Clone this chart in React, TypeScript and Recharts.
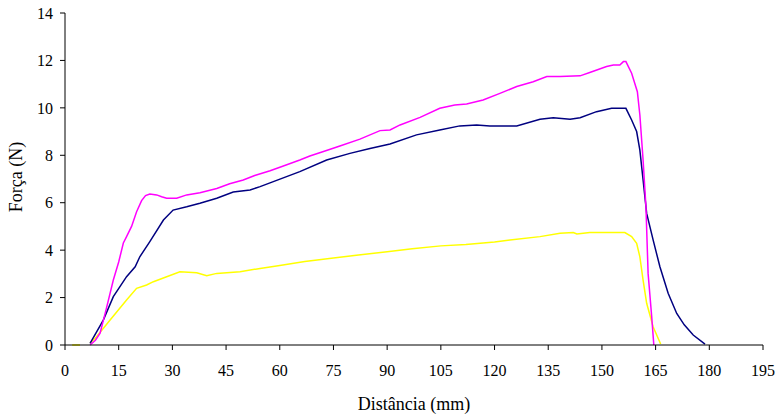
import { LineChart, Line, XAxis, YAxis } from 'recharts';

// Force (N) vs distance (mm), three test runs
const magenta = [
    { x: 7, y: 0 }, { x: 8.5, y: 0.2 }, { x: 9.8, y: 0.5 }, { x: 11.5, y: 1.5 }, { x: 13.5, y: 2.74 },
    { x: 15, y: 3.5 }, { x: 16.3, y: 4.3 }, { x: 17.2, y: 4.57 }, { x: 18.6, y: 5.0 }, { x: 20, y: 5.62 },
    { x: 21.4, y: 6.09 }, { x: 22.5, y: 6.3 }, { x: 23.7, y: 6.37 }, { x: 25.6, y: 6.33 }, { x: 27, y: 6.25 },
    { x: 28.4, y: 6.19 }, { x: 31.2, y: 6.19 }, { x: 34, y: 6.33 }, { x: 37.7, y: 6.42 }, { x: 42.4, y: 6.6 },
    { x: 46, y: 6.8 }, { x: 49.8, y: 6.96 }, { x: 53, y: 7.15 }, { x: 57.3, y: 7.35 }, { x: 61, y: 7.55 },
    { x: 65.6, y: 7.8 }, { x: 68.4, y: 7.97 }, { x: 72, y: 8.15 }, { x: 76.8, y: 8.39 }, { x: 82.4, y: 8.68 },
    { x: 88, y: 9.04 }, { x: 90.8, y: 9.07 }, { x: 93.6, y: 9.28 }, { x: 99.2, y: 9.6 }, { x: 104.7, y: 9.98 },
    { x: 108.9, y: 10.12 }, { x: 112.2, y: 10.16 }, { x: 116.8, y: 10.33 }, { x: 121.5, y: 10.61 },
    { x: 126.2, y: 10.9 }, { x: 130.8, y: 11.1 }, { x: 134.6, y: 11.32 }, { x: 138.3, y: 11.32 },
    { x: 143.9, y: 11.35 }, { x: 146.6, y: 11.49 }, { x: 151.3, y: 11.74 }, { x: 153.2, y: 11.81 },
    { x: 155, y: 11.81 }, { x: 156, y: 11.95 }, { x: 156.7, y: 11.95 }, { x: 158.3, y: 11.46 },
    { x: 159.9, y: 10.68 }, { x: 160.6, y: 9.7 }, { x: 161.5, y: 7.8 }, { x: 162.3, y: 5.83 },
    { x: 162.9, y: 3.02 }, { x: 163.9, y: 1.2 }, { x: 164.5, y: 0 },
];

const navy = [
    { x: 7, y: 0.07 }, { x: 10.7, y: 1.05 }, { x: 13.5, y: 2.04 }, { x: 17.2, y: 2.88 }, { x: 19.6, y: 3.3 },
    { x: 20.9, y: 3.72 }, { x: 23.7, y: 4.36 }, { x: 27.5, y: 5.27 }, { x: 30.2, y: 5.69 }, { x: 34, y: 5.83 },
    { x: 37.7, y: 5.98 }, { x: 42.4, y: 6.19 }, { x: 47, y: 6.45 }, { x: 51.7, y: 6.54 }, { x: 54.5, y: 6.68 },
    { x: 58.2, y: 6.89 }, { x: 65.6, y: 7.31 }, { x: 73.1, y: 7.8 }, { x: 79.6, y: 8.08 }, { x: 85.2, y: 8.29 },
    { x: 90.8, y: 8.48 }, { x: 98.2, y: 8.86 }, { x: 104.7, y: 9.07 }, { x: 110.3, y: 9.24 }, { x: 115, y: 9.28 },
    { x: 118.7, y: 9.24 }, { x: 126.2, y: 9.24 }, { x: 132.7, y: 9.52 }, { x: 136.4, y: 9.58 },
    { x: 141.1, y: 9.52 }, { x: 143.9, y: 9.58 }, { x: 148.5, y: 9.84 }, { x: 152.7, y: 9.98 },
    { x: 156.7, y: 9.98 }, { x: 158.3, y: 9.49 }, { x: 159.7, y: 9.0 }, { x: 160.6, y: 8.22 },
    { x: 161.5, y: 6.96 }, { x: 162.5, y: 5.55 }, { x: 164.3, y: 4.43 }, { x: 166.2, y: 3.3 },
    { x: 168.5, y: 2.18 }, { x: 170.9, y: 1.33 }, { x: 173, y: 0.85 }, { x: 175.5, y: 0.42 }, { x: 178.8, y: 0.04 },
];

const yellow = [
    { x: 2, y: 0 }, { x: 4.2, y: 0 }, { x: 5, y: null },
    { x: 7, y: 0.07 }, { x: 8.8, y: 0.35 }, { x: 12.6, y: 1.05 }, { x: 17.2, y: 1.9 }, { x: 20, y: 2.39 },
    { x: 22.8, y: 2.53 }, { x: 24.7, y: 2.67 }, { x: 28.4, y: 2.88 }, { x: 32.1, y: 3.09 }, { x: 36.8, y: 3.05 },
    { x: 39.6, y: 2.92 }, { x: 42.4, y: 3.02 }, { x: 48.9, y: 3.09 }, { x: 54.5, y: 3.23 }, { x: 60, y: 3.35 },
    { x: 67, y: 3.52 }, { x: 75, y: 3.67 }, { x: 82, y: 3.8 }, { x: 90, y: 3.93 }, { x: 97, y: 4.06 },
    { x: 105, y: 4.18 }, { x: 112, y: 4.24 }, { x: 120, y: 4.34 }, { x: 124.3, y: 4.43 }, { x: 132.7, y: 4.57 },
    { x: 138.3, y: 4.71 }, { x: 142, y: 4.74 }, { x: 143, y: 4.68 }, { x: 146.6, y: 4.74 }, { x: 156.4, y: 4.74 },
    { x: 158.3, y: 4.57 }, { x: 159.7, y: 4.29 }, { x: 160.6, y: 3.72 }, { x: 161.5, y: 2.74 },
    { x: 162.5, y: 1.76 }, { x: 164.3, y: 0.77 }, { x: 166.4, y: 0.04 },
];

const xTicks = [0, 15, 30, 45, 60, 75, 90, 105, 120, 135, 150, 165, 180, 195];
const yTicks = [0, 2, 4, 6, 8, 10, 12, 14];

const FONT = 'Liberation Serif, serif';

const YLabel = ({ viewBox }: any) => {
    const cy = viewBox.y + viewBox.height / 2 - 2;
    return (
        <text
            x={22}
            y={cy}
            transform={`rotate(-90, 22, ${cy})`}
            textAnchor="middle"
            style={{ fontFamily: FONT, fontSize: 18 }}
            fill="#000"
        >
            Força (N)
        </text>
    );
};

export default function App() {
    return (
        <div style={{ position: 'absolute', left: 0, top: 0, background: '#fff', fontFamily: FONT }}>
            <LineChart width={778} height={414} margin={{ top: 13, right: 15, left: 0, bottom: 0 }} style={{ fontFamily: FONT }}>
                <XAxis
                    type="number"
                    dataKey="x"
                    domain={[0, 195]}
                    ticks={xTicks}
                    allowDataOverflow
                    height={69}
                    stroke="#000"
                    tickLine={{ stroke: '#000' }}
                    tickSize={5}
                    tickMargin={15}
                    tick={{ fill: '#000', fontSize: 16, style: { fontFamily: FONT } }}
                    label={{ value: 'Distância (mm)', position: 'insideBottom', offset: 4, fill: '#000', fontSize: 18, style: { fontFamily: FONT } }}
                />
                <YAxis
                    type="number"
                    domain={[0, 14]}
                    ticks={yTicks}
                    width={65}
                    stroke="#000"
                    tickLine={{ stroke: '#000' }}
                    tickSize={5}
                    tickMargin={7}
                    tick={{ fill: '#000', fontSize: 16, style: { fontFamily: FONT } }}
                    label={<YLabel />}
                />
                <Line data={yellow} dataKey="y" stroke="#FFFF00" strokeWidth={1.5} dot={false} isAnimationActive={false} connectNulls={false} />
                <Line data={navy} dataKey="y" stroke="#000080" strokeWidth={1.5} dot={false} isAnimationActive={false} />
                <Line data={magenta} dataKey="y" stroke="#FF00FF" strokeWidth={1.5} dot={false} isAnimationActive={false} />
            </LineChart>
        </div>
    );
}
